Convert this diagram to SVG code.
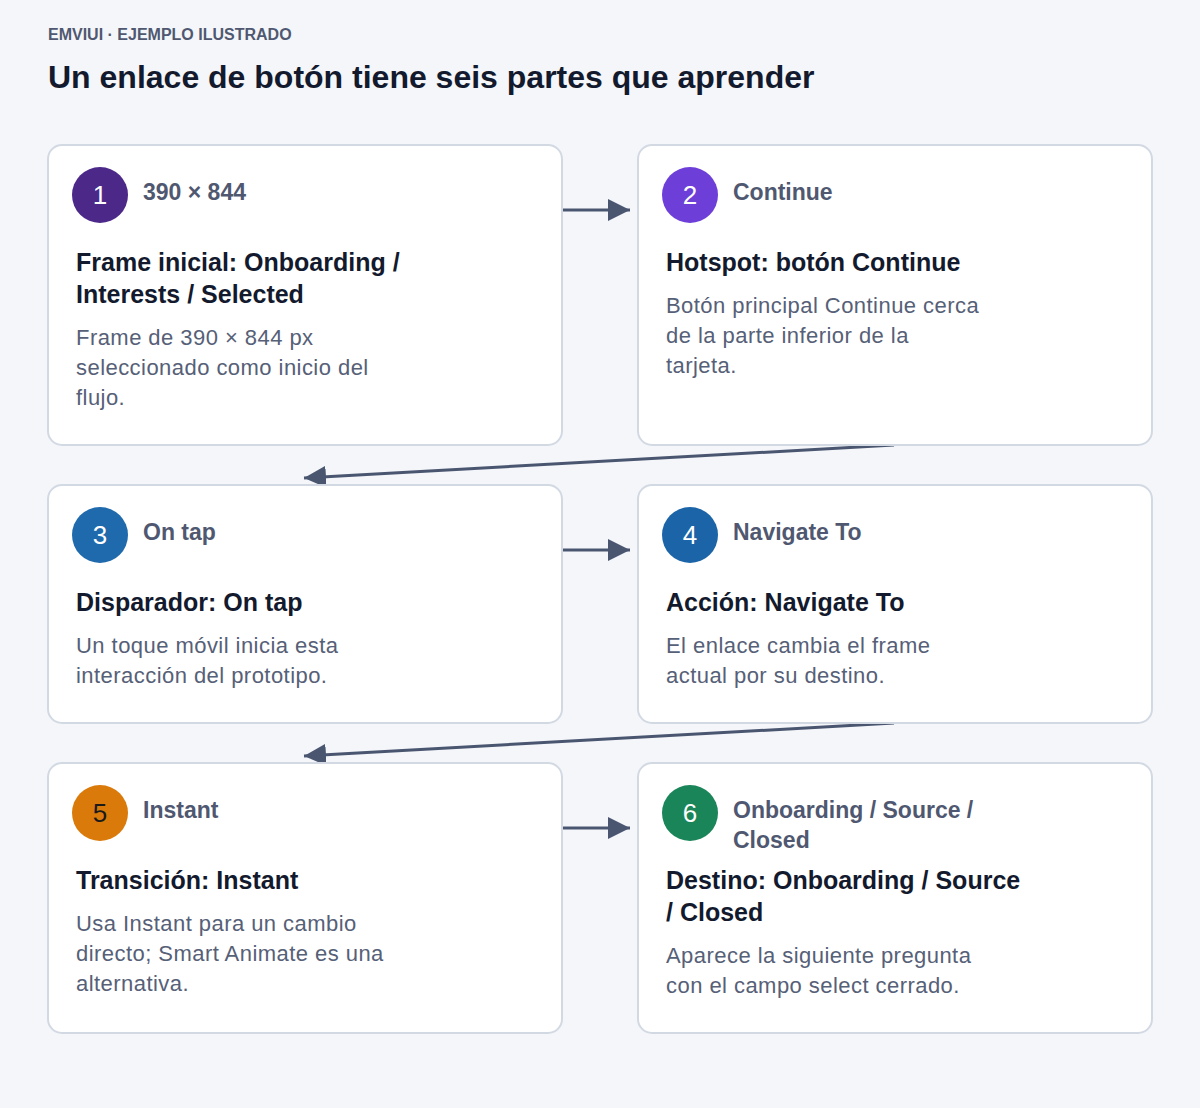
<svg xmlns="http://www.w3.org/2000/svg" width="1200" height="1108" viewBox="0 0 1200 1108">
<defs>
<marker id="ah2" viewBox="0 0 22 22" refX="22" refY="11" markerWidth="22" markerHeight="22" markerUnits="userSpaceOnUse" orient="auto">
<path d="M0,0 L22,11 L0,22 z" fill="#4a5670"/>
</marker>
<style>
.card{fill:#ffffff;stroke:#d3d9e3;stroke-width:2}
.num{font-family:"Liberation Sans",Arial,sans-serif;font-size:26px;fill:#ffffff;text-anchor:middle}
.kick{font-family:"Liberation Sans",Arial,sans-serif;font-size:23px;font-weight:bold;fill:#4f5870}
.ttl{font-family:"Liberation Sans",Arial,sans-serif;font-size:25px;font-weight:bold;fill:#131a2e}
.body{font-family:"Liberation Sans",Arial,sans-serif;font-size:22px;letter-spacing:0.45px;fill:#566077}
.conn{stroke:#4a5670;stroke-width:3;fill:none}
</style>
</defs>
<rect width="1200" height="1108" fill="#f4f6fa"/>
<text x="48" y="40" font-family="'Liberation Sans',Arial,sans-serif" font-size="16" font-weight="bold" fill="#4f5870">EMVIUI · EJEMPLO ILUSTRADO</text>
<text x="48" y="88" font-family="'Liberation Sans',Arial,sans-serif" font-size="32" font-weight="bold" fill="#131a2e">Un enlace de botón tiene seis partes que aprender</text>

<g id="connectors">
<line class="conn" x1="563" y1="210" x2="630" y2="210" marker-end="url(#ah2)"/>
<line class="conn" x1="894" y1="445" x2="304" y2="478" marker-end="url(#ah2)"/>
<line class="conn" x1="563" y1="550" x2="630" y2="550" marker-end="url(#ah2)"/>
<line class="conn" x1="894" y1="723" x2="304" y2="756" marker-end="url(#ah2)"/>
<line class="conn" x1="563" y1="828" x2="630" y2="828" marker-end="url(#ah2)"/>
</g>

<g id="node1">
<rect class="card" x="48" y="145" width="514" height="300" rx="14"/>
<circle cx="100" cy="195" r="28" fill="#4c2889"/>
<text class="num" x="100" y="204">1</text>
<text class="kick" x="143" y="200">390 × 844</text>
<text class="ttl" x="76" y="271">Frame inicial: Onboarding /</text>
<text class="ttl" x="76" y="303">Interests / Selected</text>
<text class="body" x="76" y="345">Frame de 390 × 844 px</text>
<text class="body" x="76" y="375">seleccionado como inicio del</text>
<text class="body" x="76" y="405">flujo.</text>
</g>

<g id="node2">
<rect class="card" x="638" y="145" width="514" height="300" rx="14"/>
<circle cx="690" cy="195" r="28" fill="#6d3fd8"/>
<text class="num" x="690" y="204">2</text>
<text class="kick" x="733" y="200">Continue</text>
<text class="ttl" x="666" y="271">Hotspot: botón Continue</text>
<text class="body" x="666" y="313">Botón principal Continue cerca</text>
<text class="body" x="666" y="343">de la parte inferior de la</text>
<text class="body" x="666" y="373">tarjeta.</text>
</g>

<g id="node3">
<rect class="card" x="48" y="485" width="514" height="238" rx="14"/>
<circle cx="100" cy="535" r="28" fill="#1f6aad"/>
<text class="num" x="100" y="544">3</text>
<text class="kick" x="143" y="540">On tap</text>
<text class="ttl" x="76" y="611">Disparador: On tap</text>
<text class="body" x="76" y="653">Un toque móvil inicia esta</text>
<text class="body" x="76" y="683">interacción del prototipo.</text>
</g>

<g id="node4">
<rect class="card" x="638" y="485" width="514" height="238" rx="14"/>
<circle cx="690" cy="535" r="28" fill="#1b64a8"/>
<text class="num" x="690" y="544">4</text>
<text class="kick" x="733" y="540">Navigate To</text>
<text class="ttl" x="666" y="611">Acción: Navigate To</text>
<text class="body" x="666" y="653">El enlace cambia el frame</text>
<text class="body" x="666" y="683">actual por su destino.</text>
</g>

<g id="node5">
<rect class="card" x="48" y="763" width="514" height="270" rx="14"/>
<circle cx="100" cy="813" r="28" fill="#d97a0a"/>
<text class="num" x="100" y="822" style="fill:#1a1a1a">5</text>
<text class="kick" x="143" y="818">Instant</text>
<text class="ttl" x="76" y="889">Transición: Instant</text>
<text class="body" x="76" y="931">Usa Instant para un cambio</text>
<text class="body" x="76" y="961">directo; Smart Animate es una</text>
<text class="body" x="76" y="991">alternativa.</text>
</g>

<g id="node6">
<rect class="card" x="638" y="763" width="514" height="270" rx="14"/>
<circle cx="690" cy="813" r="28" fill="#1a8558"/>
<text class="num" x="690" y="822">6</text>
<text class="kick" x="733" y="818">Onboarding / Source /</text>
<text class="kick" x="733" y="848">Closed</text>
<text class="ttl" x="666" y="889">Destino: Onboarding / Source</text>
<text class="ttl" x="666" y="921">/ Closed</text>
<text class="body" x="666" y="963">Aparece la siguiente pregunta</text>
<text class="body" x="666" y="993">con el campo select cerrado.</text>
</g>
</svg>
